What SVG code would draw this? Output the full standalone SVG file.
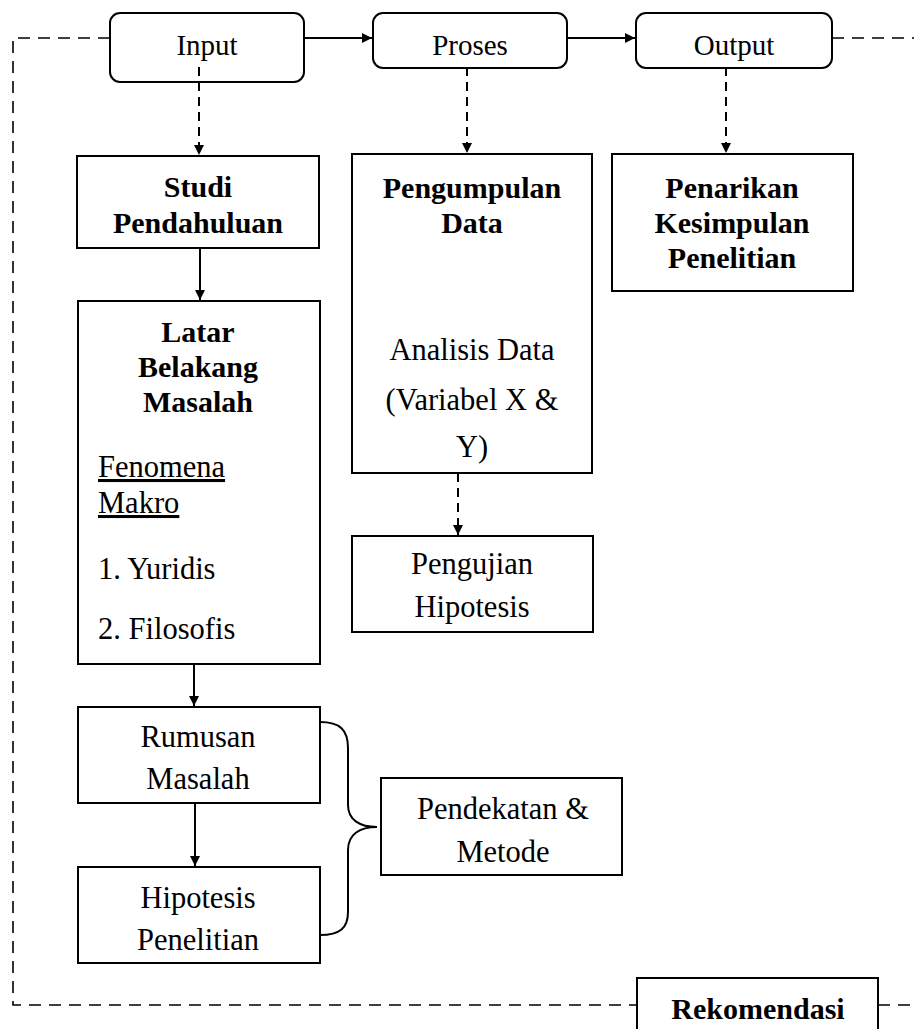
<svg xmlns="http://www.w3.org/2000/svg" width="914" height="1029" viewBox="0 0 914 1029">
<style>
.box{fill:#fff;stroke:#000;stroke-width:2}
.t{font-family:"Liberation Serif","Times New Roman",serif;font-size:30.5px;fill:#000;text-anchor:middle}
.h{font-size:29px}
.b{font-weight:bold;font-size:30px}
.l{text-anchor:start}
.ln{stroke:#000;stroke-width:2;fill:none}
.dl{stroke:#000;stroke-width:2;fill:none;stroke-dasharray:9 6}
.db{stroke:#000;stroke-width:1.6;fill:none;stroke-dasharray:12 8}
</style>
<defs>
<marker id="ah" markerUnits="userSpaceOnUse" markerWidth="12" markerHeight="12" refX="10" refY="5" orient="auto">
<path d="M0,0 L10,5 L0,10 Z" fill="#000"/>
</marker>
</defs>
<rect width="914" height="1029" fill="#fff"/>
<g id="input">
<rect class="box" x="110" y="13" width="194" height="69" rx="10"/>
<text class="t h" x="207" y="55">Input</text>
</g>
<g id="proses">
<rect class="box" x="373" y="13" width="194" height="55" rx="10"/>
<text class="t h" x="470" y="55">Proses</text>
</g>
<g id="output">
<rect class="box" x="636" y="13" width="196" height="55" rx="10"/>
<text class="t h" x="734" y="55">Output</text>
</g>
<g id="connectors">
<path class="db" d="M110,38 H13 V1005 H637"/>
<path class="db" d="M878,1005 H914"/>
<path class="db" d="M832,38 H914"/>
<line class="ln" x1="304" y1="38" x2="372" y2="38" marker-end="url(#ah)"/>
<line class="ln" x1="567" y1="38" x2="635" y2="38" marker-end="url(#ah)"/>
<line class="dl" x1="199" y1="67" x2="199" y2="155" marker-end="url(#ah)"/>
<line class="dl" x1="467" y1="67" x2="467" y2="153" marker-end="url(#ah)"/>
<line class="dl" x1="726" y1="67" x2="726" y2="153" marker-end="url(#ah)"/>
<line class="dl" x1="458" y1="473" x2="458" y2="535" marker-end="url(#ah)"/>
<line class="ln" x1="200" y1="248" x2="200" y2="300" marker-end="url(#ah)"/>
<line class="ln" x1="194" y1="664" x2="194" y2="706" marker-end="url(#ah)"/>
<line class="ln" x1="195" y1="803" x2="195" y2="866" marker-end="url(#ah)"/>
<path class="ln" d="M320,722 C340,722 348,730 348,748 V805 C348,820 360,827 377,827 C360,827 348,834 348,850 V912 C348,928 340,935 320,935"/>
</g>
<g id="studi">
<rect class="box" x="77" y="156" width="242" height="92"/>
<text class="t b" x="198" y="197">Studi</text>
<text class="t b" x="198" y="233">Pendahuluan</text>
</g>
<g id="latar">
<rect class="box" x="78" y="301" width="242" height="363"/>
<text class="t b" x="198" y="342">Latar</text>
<text class="t b" x="198" y="377">Belakang</text>
<text class="t b" x="198" y="412">Masalah</text>
<text class="t l" x="98" y="477" text-decoration="underline">Fenomena</text>
<text class="t l" x="98" y="513" text-decoration="underline">Makro</text>
<text class="t l" x="98" y="579">1. Yuridis</text>
<text class="t l" x="98" y="639">2. Filosofis</text>
</g>
<g id="pengumpulan">
<rect class="box" x="352" y="154" width="240" height="319"/>
<text class="t b" x="472" y="198">Pengumpulan</text>
<text class="t b" x="472" y="233">Data</text>
<text class="t" x="472" y="360">Analisis  Data</text>
<text class="t" x="472" y="410">(Variabel  X &amp;</text>
<text class="t" x="472" y="457">Y)</text>
</g>
<g id="pengujian">
<rect class="box" x="352" y="536" width="241" height="96"/>
<text class="t" x="472" y="574">Pengujian</text>
<text class="t" x="472" y="617">Hipotesis</text>
</g>
<g id="penarikan">
<rect class="box" x="612" y="154" width="241" height="137"/>
<text class="t b" x="732" y="198">Penarikan</text>
<text class="t b" x="732" y="233">Kesimpulan</text>
<text class="t b" x="732" y="268">Penelitian</text>
</g>
<g id="rumusan">
<rect class="box" x="78" y="707" width="242" height="96"/>
<text class="t" x="198" y="747">Rumusan</text>
<text class="t" x="198" y="789">Masalah</text>
</g>
<g id="hipotesis">
<rect class="box" x="78" y="867" width="242" height="96"/>
<text class="t" x="198" y="908">Hipotesis</text>
<text class="t" x="198" y="950">Penelitian</text>
</g>
<g id="pendekatan">
<rect class="box" x="381" y="778" width="241" height="97"/>
<text class="t" x="503" y="819">Pendekatan  &amp;</text>
<text class="t" x="503" y="862">Metode</text>
</g>
<g id="rekomendasi">
<rect class="box" x="637" y="978" width="241" height="70"/>
<text class="t b" x="758" y="1019">Rekomendasi</text>
</g>
</svg>
